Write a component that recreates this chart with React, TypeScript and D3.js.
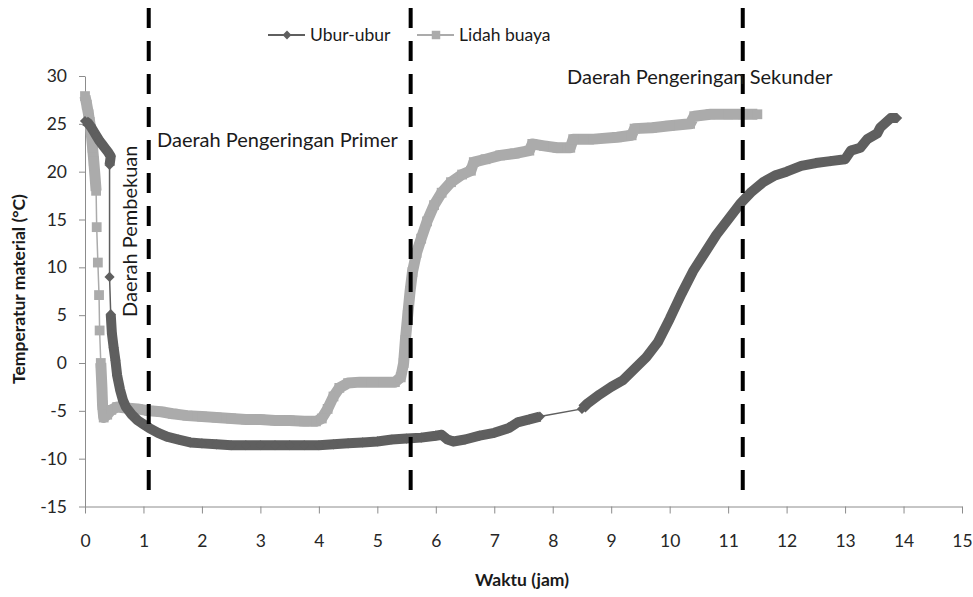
import React, { useEffect, useRef } from 'react';
import * as d3 from 'd3';

// Temperatur material selama proses pengeringan beku (freeze drying)
// [waktu (jam), suhu (°C)]
const uburUbur: [number, number][] = [
  [0, 25.3], [0.05, 25.1], [0.1, 24.7], [0.15, 24.2], [0.2, 23.7], [0.25, 23.2],
  [0.3, 22.8], [0.35, 22.4], [0.4, 22.0], [0.44, 21.6], [0.42, 20.7], [0.42, 9.0],
  [0.44, 5.1], [0.46, 3.1], [0.49, 1.6], [0.52, 0.3], [0.55, -1.3], [0.6, -2.8],
  [0.65, -3.9], [0.7, -4.6], [0.8, -5.4], [0.9, -6.0], [1.0, -6.4], [1.1, -6.8],
  [1.25, -7.3], [1.4, -7.7], [1.6, -8.0], [1.8, -8.3], [2.0, -8.4], [2.25, -8.5],
  [2.5, -8.6], [2.75, -8.6], [3.0, -8.6], [3.25, -8.6], [3.5, -8.6], [3.75, -8.6],
  [4.0, -8.6], [4.25, -8.5], [4.5, -8.4], [4.75, -8.3], [5.0, -8.2], [5.25, -8.0],
  [5.5, -7.9], [5.75, -7.8], [6.0, -7.6], [6.1, -7.5], [6.2, -8.0], [6.3, -8.2],
  [6.5, -8.0], [6.75, -7.6], [7.0, -7.3], [7.25, -6.8], [7.4, -6.2], [7.6, -5.9],
  [7.78, -5.6], [8.5, -4.8], [8.6, -4.2], [8.8, -3.3], [9.0, -2.5], [9.2, -1.8],
  [9.4, -0.6], [9.6, 0.6], [9.8, 2.2], [10.0, 4.6], [10.2, 7.2], [10.4, 9.6],
  [10.6, 11.5], [10.8, 13.4], [11.0, 15.0], [11.2, 16.6], [11.4, 17.9], [11.6, 18.9],
  [11.8, 19.6], [12.0, 20.0], [12.25, 20.6], [12.5, 20.9], [12.75, 21.1], [13.0, 21.3],
  [13.1, 22.2], [13.26, 22.5], [13.38, 23.4], [13.55, 24.0], [13.6, 24.6], [13.78, 25.6],
  [13.89, 25.6],
];

const lidahBuaya: [number, number][] = [
  [0, 27.9], [0.03, 27.0], [0.06, 26.0], [0.08, 25.2], [0.1, 24.4], [0.13, 22.5],
  [0.15, 21.1], [0.17, 19.6], [0.19, 18.0], [0.2, 14.2], [0.22, 10.5], [0.24, 7.1],
  [0.25, 3.4], [0.27, 0.0], [0.29, -2.6], [0.3, -4.4], [0.32, -5.7], [0.38, -5.4],
  [0.45, -4.9], [0.55, -4.6], [0.7, -4.7], [0.9, -4.8], [1.1, -5.0], [1.3, -5.1],
  [1.5, -5.3], [1.75, -5.5], [2.0, -5.6], [2.25, -5.7], [2.5, -5.8], [2.75, -5.9],
  [3.0, -5.9], [3.25, -6.0], [3.5, -6.0], [3.75, -6.1], [3.95, -6.1], [4.05, -5.8],
  [4.15, -4.8], [4.25, -3.5], [4.35, -2.6], [4.5, -2.1], [4.7, -2.0], [4.9, -2.0],
  [5.1, -2.0], [5.3, -2.0], [5.4, -1.5], [5.45, 0.0], [5.48, 2.4], [5.52, 5.0],
  [5.56, 7.5], [5.6, 9.5], [5.67, 11.5], [5.75, 13.0], [5.85, 14.8], [5.97, 16.5],
  [6.1, 17.8], [6.26, 18.9], [6.45, 19.7], [6.6, 20.1], [6.65, 21.0], [6.85, 21.3],
  [7.1, 21.7], [7.35, 21.9], [7.6, 22.2], [7.65, 22.9], [7.85, 22.7], [8.08, 22.5],
  [8.3, 22.5], [8.35, 23.4], [8.7, 23.4], [9.1, 23.6], [9.35, 23.8], [9.4, 24.5],
  [9.7, 24.6], [10.0, 24.8], [10.35, 25.0], [10.42, 25.8], [10.7, 26.0], [11.0, 26.0],
  [11.25, 26.0], [11.5, 26.0],
];

// batas daerah: pembekuan | pengeringan primer | pengeringan sekunder
const phaseBounds = [1.09, 5.57, 11.25];

const xTicks = d3.range(0, 16, 1);
const yTicks = d3.range(-15, 31, 5);

const FONT = 'Lato, "Open Sans", sans-serif';
const DARK = '#5f5f5f';
const LIGHT = '#ababab';

const W = 973;
const H = 597;

const App = () => {
  const svgRef = useRef<SVGSVGElement>(null);

  useEffect(() => {
    const svg = d3.select(svgRef.current);
    svg.selectAll('*').remove();

    const x = d3.scaleLinear().domain([0, 15]).range([85, 962]);
    const y = d3.scaleLinear().domain([-15, 30]).range([506.5, 76]);

    // Axes
    const axisColor = '#8c8c8c';
    const xAxis = svg.append('g')
      .attr('transform', `translate(0,${y(-15)})`)
      .call(d3.axisBottom(x).tickValues(xTicks).tickSize(7).tickPadding(21)
        .tickSizeOuter(0).tickFormat(d => String(d)));
    const yAxis = svg.append('g')
      .attr('transform', `translate(${x(0)},0)`)
      .call(d3.axisLeft(y).tickValues(yTicks).tickSize(6).tickPadding(12)
        .tickSizeOuter(0).tickFormat(d => String(d)));
    [xAxis, yAxis].forEach(a => {
      a.select('.domain').attr('stroke', axisColor);
      a.selectAll('.tick line').attr('stroke', axisColor);
      a.selectAll('.tick text')
        .attr('fill', '#262626')
        .style('font-family', FONT)
        .style('font-size', '17.5px');
    });

    // Series drawing: thin connector, thick band where samples are dense, markers
    const drawSeries = (
      pts: [number, number][],
      color: string,
      band: number,
      symbol: d3.SymbolType,
      size: number,
    ) => {
      const g = svg.append('g');
      const px = pts.map(([t, v]) => [x(t), y(v)] as [number, number]);
      g.append('path')
        .attr('d', d3.line()(px))
        .attr('fill', 'none')
        .attr('stroke', color)
        .attr('stroke-width', 1.5);

      const runs: [number, number][][] = [];
      let run = [px[0]];
      for (let i = 1; i < px.length; i++) {
        const d = Math.hypot(px[i][0] - px[i - 1][0], px[i][1] - px[i - 1][1]);
        if (d <= 30) run.push(px[i]);
        else { runs.push(run); run = [px[i]]; }
      }
      runs.push(run);
      runs.filter(r => r.length > 1).forEach(r => {
        g.append('path')
          .attr('d', d3.line()(r))
          .attr('fill', 'none')
          .attr('stroke', color)
          .attr('stroke-width', band)
          .attr('stroke-linejoin', 'round');
      });

      g.selectAll('path.mk')
        .data(px)
        .join('path')
        .attr('class', 'mk')
        .attr('d', d3.symbol(symbol, size)())
        .attr('transform', d => `translate(${d[0]},${d[1]})`)
        .attr('fill', color);
    };

    drawSeries(lidahBuaya, LIGHT, 11, d3.symbolSquare, 96);
    drawSeries(uburUbur, DARK, 10, d3.symbolDiamond2, 66);

    // Phase boundaries
    svg.append('g')
      .selectAll('line')
      .data(phaseBounds)
      .join('line')
      .attr('x1', d => x(d))
      .attr('x2', d => x(d))
      .attr('y1', 8)
      .attr('y2', 500)
      .attr('stroke', '#000')
      .attr('stroke-width', 4)
      .attr('stroke-dasharray', '20 13');

    // Phase annotations
    const note = (txt: string, tx: number, ty: number, rotate = false) => {
      svg.append('text')
        .attr('transform', rotate ? `translate(${tx},${ty}) rotate(-90)` : `translate(${tx},${ty})`)
        .attr('fill', '#1a1a1a')
        .style('font-family', FONT)
        .style('font-size', '20px')
        .text(txt);
    };
    note('Daerah Pengeringan Primer', 157, 147);
    note('Daerah Pengeringan Sekunder', 567, 84);
    note('Daerah Pembekuan', 137, 317, true);

    // Axis titles
    svg.append('text')
      .attr('x', 522)
      .attr('y', 586)
      .attr('text-anchor', 'middle')
      .attr('fill', '#1a1a1a')
      .style('font-family', FONT)
      .style('font-size', '17.5px')
      .style('font-weight', 'bold')
      .text('Waktu (jam)');
    svg.append('text')
      .attr('transform', `translate(25,${289}) rotate(-90)`)
      .attr('text-anchor', 'middle')
      .attr('fill', '#1a1a1a')
      .style('font-family', FONT)
      .style('font-size', '17.5px')
      .style('font-weight', 'bold')
      .text('Temperatur  material (°C)');

    // Legend
    const legend = [
      { name: 'Ubur-ubur', color: DARK, symbol: d3.symbolDiamond2, size: 50, x0: 268 },
      { name: 'Lidah buaya', color: LIGHT, symbol: d3.symbolSquare, size: 72, x0: 417 },
    ];
    const lg = svg.append('g').attr('transform', 'translate(0,35)');
    legend.forEach(l => {
      lg.append('line')
        .attr('x1', l.x0).attr('x2', l.x0 + 37)
        .attr('stroke', l.color).attr('stroke-width', 2);
      lg.append('path')
        .attr('d', d3.symbol(l.symbol, l.size)())
        .attr('transform', `translate(${l.x0 + 19},0)`)
        .attr('fill', l.color);
      lg.append('text')
        .attr('x', l.x0 + 42)
        .attr('y', 6)
        .attr('fill', '#1a1a1a')
        .style('font-family', FONT)
        .style('font-size', '17.5px')
        .text(l.name);
    });
  }, []);

  return (
    <svg
      ref={svgRef}
      width={W}
      height={H}
      style={{ position: 'absolute', left: 0, top: 0, background: '#fff' }}
    />
  );
};

export default App;
